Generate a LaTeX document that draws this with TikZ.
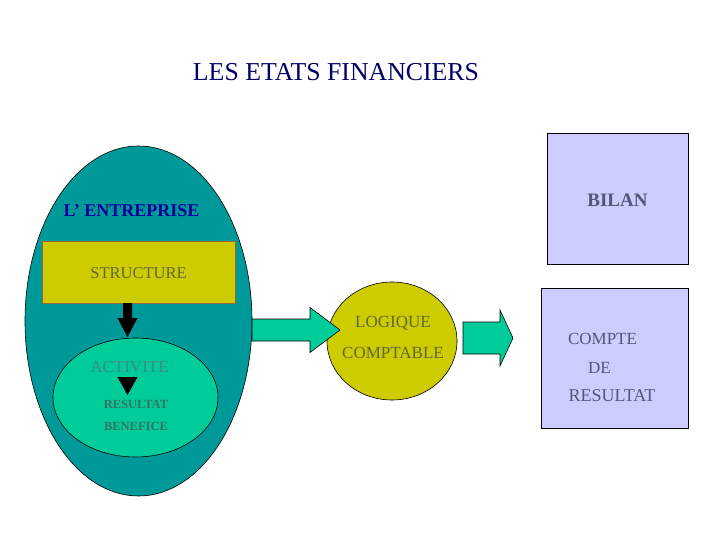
\documentclass[tikz,border=0pt]{standalone}
\usepackage{fontspec}
\setmainfont{Liberation Serif}
\usetikzlibrary{shapes.geometric}
\definecolor{teal1}{HTML}{009999}
\definecolor{olive1}{HTML}{CCCC00}
\definecolor{green1}{HTML}{00CC99}
\definecolor{lav}{HTML}{CCCCFF}
\definecolor{navy}{HTML}{000066}
\definecolor{ebleu}{HTML}{000099}
\definecolor{oltext}{HTML}{666633}
\definecolor{grtext}{HTML}{3A8A80}
\definecolor{grtextb}{HTML}{357465}
\definecolor{lavtext}{HTML}{555577}
\definecolor{brownb}{HTML}{996633}
\tikzset{
  txt/.style={inner sep=0pt, anchor=center},
  blockarrow/.style={fill=green1, draw=black, line width=0.6pt, line join=miter},
}
\begin{document}
\begin{tikzpicture}[x=1pt,y=-1pt]
\useasboundingbox (0,0) rectangle (720,540);
% title
\node[txt, text=navy, font=\fontsize{25.8}{28}\selectfont] (title) at (336,72) {LES ETATS FINANCIERS};
% big ellipse
\node[ellipse, draw=black, fill=teal1, minimum width=227pt, minimum height=350pt, inner sep=0pt, line width=0.6pt] (entreprise) at (138.5,321) {};
\node[txt, text=ebleu, font=\fontsize{18}{20}\selectfont\bfseries] (entlabel) at (131.5,211) {L’ ENTREPRISE};
% structure
\node[rectangle, draw=brownb, fill=olive1, minimum width=193pt, minimum height=62pt, inner sep=0pt, line width=0.8pt] (structure) at (138.5,272) {};
\node[txt, text=oltext, font=\fontsize{16.5}{18}\selectfont] (structlabel) at (138.5,273) {STRUCTURE};
% inner ellipse
\node[ellipse, draw=black, fill=green1, minimum width=165pt, minimum height=119pt, inner sep=0pt, line width=0.6pt] (activite) at (135.5,397.5) {};
% black arrow down
\fill[black] (123,303) -- (132,303) -- (132,318) -- (137.5,318) -- (127.5,337) -- (117.5,318) -- (123,318) -- cycle;
\node[txt, text=grtext, font=\fontsize{17}{19}\selectfont] (actlabel) at (129.5,367) {ACTIVITE};
\fill[black] (117.5,377) -- (137.5,377) -- (127.5,395) -- cycle;
\node[txt, text=grtextb, font=\fontsize{12.5}{14}\selectfont\bfseries] (reslabel) at (136,404.5) {RESULTAT};
\node[txt, text=grtextb, font=\fontsize{12.5}{14}\selectfont\bfseries] (benlabel) at (136,426.5) {BENEFICE};
% logique comptable
\node[ellipse, draw=black, fill=olive1, minimum width=130pt, minimum height=118pt, inner sep=0pt, line width=0.6pt] (logique) at (392,341) {};
\node[txt, text=oltext, font=\fontsize{17}{19}\selectfont] (loglabel) at (393,323.5) {LOGIQUE};
\node[txt, text=oltext, font=\fontsize{17}{19}\selectfont] (comptlabel) at (393,352.5) {COMPTABLE};
% green arrows
\draw[blockarrow] (252,319) -- (310,319) -- (310,307.5) -- (340,330) -- (310,352.5) -- (310,341) -- (252,341) -- cycle;
\draw[blockarrow] (463,322) -- (500,322) -- (500,310) -- (513,338) -- (500,366) -- (500,354) -- (463,354) -- cycle;
% bilan
\node[rectangle, draw=black, fill=lav, minimum width=141pt, minimum height=131pt, inner sep=0pt, line width=0.6pt] (bilan) at (617.5,198.5) {};
\node[txt, text=lavtext, font=\fontsize{19}{21}\selectfont\bfseries] (bilanlabel) at (617.5,200) {BILAN};
% compte de resultat
\node[rectangle, draw=black, fill=lav, minimum width=147pt, minimum height=140pt, inner sep=0pt, line width=0.6pt] (compte) at (614.5,358) {};
\node[txt, text=lavtext, font=\fontsize{17}{19}\selectfont] (cptlabel) at (602.5,338.5) {COMPTE};
\node[txt, text=lavtext, font=\fontsize{17}{19}\selectfont] (delabel) at (599.5,367.5) {DE};
\node[txt, text=lavtext, font=\fontsize{18}{20}\selectfont] (rslabel) at (612,396) {RESULTAT};
\end{tikzpicture}
\end{document}
